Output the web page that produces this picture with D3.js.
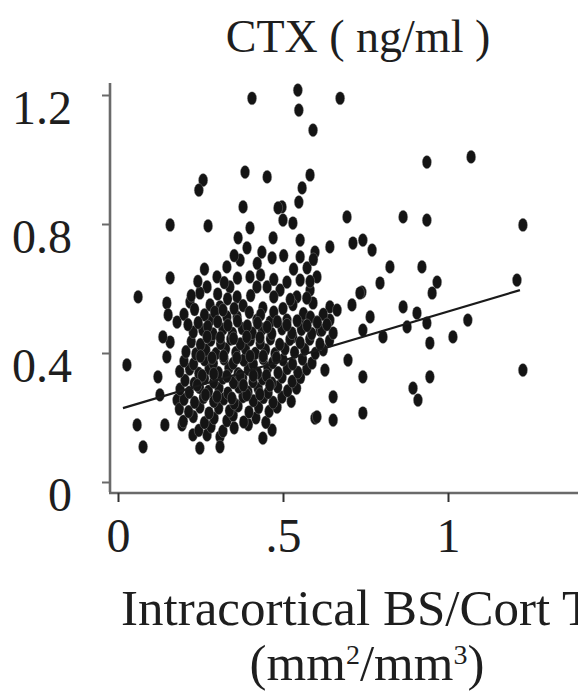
<!DOCTYPE html>
<html>
<head>
<meta charset="utf-8">
<script src="https://cdn.jsdelivr.net/npm/d3@7"></script>
<style>
  html, body { margin: 0; padding: 0; background: #fff; }
  svg { display: block; }
  text { font-family: "Liberation Serif", "Times New Roman", serif; fill: #1e1e1e; }
</style>
</head>
<body>
<div id="chart"></div>
<script>
// ---------------- DATA ----------------
const chartTitle = "CTX ( ng/ml )";
const xTitle = "Intracortical BS/Cort TV";
const yTicks = [0, 0.4, 0.8, 1.2];
const yTickLabels = ["0", "0.4", "0.8", "1.2"];
const xTicks = [0, 0.5, 1];
const xTickLabels = ["0", ".5", "1"];

// sparse / outer points [BS/Cort TV, CTX]
const outerPoints = [
  [.406,1.19],[.545,1.215],[.548,1.153],[.591,1.091],[.673,1.19],[.936,.992],[1.07,1.008],
  [1.227,.797],[.864,.822],[.694,.822],[.936,.812],[.582,.952],[.558,.912],[.548,.868],
  [.497,.853],[.530,.803],[.642,.729],[.712,.741],[.742,.75],[.770,.719],[.597,.713],
  [.552,.75],[.824,.667],[.921,.667],[.967,.62],[.794,.617],[.739,.589],[1.209,.626],
  [.258,.936],[.245,.905],[.385,.961],[.452,.946],[.158,.797],[.273,.794],[.379,.853],
  [.485,.85],[.5,.812],[.4,.788],[.364,.757],[.470,.757],[.391,.726],[.436,.713],
  [.467,.695],[.552,.698],[.370,.688],[.330,.667],[.3,.636],[.158,.633],[.061,.574],
  [.4,.636],[.573,.664],[.552,.626],[.603,.636],[.27,.605],[.218,.558],[.148,.555],
  [.152,.518],[.179,.496],[.339,.605],[.361,.574],[.421,.605],[.452,.605],[.491,.595],
  [.542,.574],[.582,.595],[.591,.555],[.642,.543],[.248,.586],[.279,.549],[.309,.543],
  [.379,.547],[.439,.54],[.5,.538],[.53,.55],[.279,.502],[.330,.512],[.361,.512],
  [.421,.502],[.461,.496],[.512,.502],[.552,.493],[.603,.496],[.642,.502],[.512,.62],
  [.530,.45],[.612,.471],[.664,.533],[.709,.549],[.733,.586],[.764,.512],[.742,.471],
  [.803,.45],[.864,.543],[.876,.481],[.936,.493],[.945,.431],[.952,.586],[.906,.524],
  [1.015,.45],[1.06,.502],[.627,.347],[.697,.378],[.742,.326],[.652,.264],[.597,.198],
  [.652,.192],[.742,.214],[.894,.291],[.909,.254],[.945,.326],[1.227,.347],[.027,.363],
  [.158,.434],[.148,.388],[.121,.326],[.058,.177],[.076,.109],[.142,.177],[.194,.177],
  [.227,.146],[.248,.105],[.27,.146],[.309,.14],[.309,.109],[.439,.136],[.467,.161],
  [.603,.202],[.179,.254],[.127,.27],[.136,.45]
];

// moderately dense band above the cluster [BS/Cort TV, CTX]
const bandPoints = [
  [.2,.52],[.232,.535],[.262,.518],[.293,.527],[.318,.533],[.352,.538],[.398,.526],[.432,.518],
  [.472,.527],[.562,.522],[.583,.511],[.622,.52],
  [.222,.578],[.302,.583],[.332,.568],[.402,.578],[.472,.574],[.522,.566],[.572,.57],
  [.242,.622],[.322,.618],[.362,.632],[.432,.642],[.472,.628],[.532,.66],[.582,.622],
  [.262,.66],[.352,.702],[.422,.678],[.502,.702],[.592,.69]
];

// dense central cluster [BS/Cort TV, CTX]
const clusterPoints = [
  [.245,.16],[.282,.172],[.318,.158],[.352,.168],[.395,.178],
  [.198,.188],[.228,.203],[.262,.184],[.291,.198],[.33,.19],[.349,.207],[.381,.186],[.418,.199],[.448,.185],
  [.186,.226],[.214,.218],[.248,.232],[.276,.214],[.305,.229],[.338,.221],[.364,.236],[.397,.217],[.426,.231],[.458,.219],[.482,.232],
  [.2,.256],[.232,.247],[.259,.262],[.29,.25],[.321,.258],[.352,.244],[.379,.265],[.41,.252],[.441,.262],[.47,.247],[.497,.263],[.525,.25],
  [.188,.288],[.216,.278],[.247,.293],[.274,.281],[.306,.291],[.333,.276],[.366,.294],[.394,.279],[.425,.29],[.455,.277],[.484,.295],[.514,.283],[.541,.291],
  [.203,.315],[.231,.306],[.262,.321],[.29,.31],[.318,.322],[.35,.308],[.378,.323],[.409,.311],[.438,.32],[.466,.307],[.497,.325],[.528,.312],[.553,.324],
  [.187,.343],[.217,.35],[.245,.337],[.276,.352],[.304,.339],[.336,.353],[.364,.336],[.395,.349],[.423,.338],[.454,.354],[.485,.339],[.513,.352],[.545,.34],[.572,.35],
  [.2,.375],[.229,.366],[.262,.379],[.289,.368],[.321,.382],[.349,.368],[.381,.378],[.41,.365],[.44,.383],[.469,.37],[.5,.379],[.529,.366],[.559,.381],[.588,.369],
  [.206,.404],[.236,.397],[.266,.41],[.297,.398],[.326,.413],[.357,.401],[.386,.414],[.416,.399],[.447,.41],[.476,.398],[.506,.413],[.535,.402],[.566,.411],[.598,.399],[.622,.41],
  [.222,.435],[.25,.426],[.281,.44],[.311,.429],[.342,.443],[.371,.428],[.401,.441],[.431,.43],[.462,.444],[.49,.427],[.521,.442],[.552,.432],[.581,.443],[.612,.428],[.641,.438],
  [.228,.465],[.257,.472],[.288,.459],[.318,.474],[.347,.461],[.377,.476],[.407,.462],[.437,.474],[.466,.46],[.497,.475],[.527,.462],[.556,.473],[.587,.46],[.618,.471],[.652,.462],
  [.212,.488],[.243,.494],[.272,.482],[.302,.497],[.333,.486],[.362,.499],[.392,.484],[.423,.493],[.452,.481],[.483,.497],[.512,.487],[.543,.5],[.573,.485],[.604,.495],[.633,.488],
  // extra points filling the core
  [.265,.27],[.3,.265],[.345,.26],[.39,.27],[.43,.272],
  [.255,.33],[.29,.335],[.33,.328],[.37,.33],[.41,.33],[.45,.33],
  [.25,.39],[.285,.385],[.32,.39],[.36,.385],[.40,.39],[.44,.39],[.48,.385],
  [.27,.45],[.31,.448],[.35,.445],[.39,.45],[.43,.448],
  [.24,.3],[.38,.3],[.46,.3]
];

// fitted regression line endpoints [x, y]
const fitLine = [[0.015, 0.229], [1.218, 0.595]];

// ---------------- LAYOUT ----------------
const W = 578, H = 692;
const svg = d3.select("#chart").append("svg").attr("width", W).attr("height", H);

const x = d3.scaleLinear().domain([0, 1]).range([118, 448]);
const y = d3.scaleLinear().domain([0, 1.2]).range([482, 95]);

const axisColor = "#6a6a6a";

// title
svg.append("text").attr("x", 358).attr("y", 52).attr("text-anchor", "middle")
  .style("font-size", "46px").text(chartTitle);

// axis lines
svg.append("line").attr("x1", 110).attr("x2", 110).attr("y1", 83).attr("y2", 492)
  .attr("stroke", axisColor).attr("stroke-width", 2.6);
svg.append("line").attr("x1", 109).attr("x2", W).attr("y1", 493).attr("y2", 493)
  .attr("stroke", axisColor).attr("stroke-width", 2.6);

// y axis
const gy = svg.append("g").attr("transform", "translate(110,0)")
  .call(d3.axisLeft(y).tickValues(yTicks)
    .tickFormat((d, i) => yTickLabels[i]).tickSize(8).tickSizeOuter(0).tickPadding(30));
gy.select(".domain").remove();
gy.selectAll(".tick line").attr("stroke", axisColor).attr("stroke-width", 2);
gy.selectAll(".tick text").attr("dy", "0.6em").style("font-size", "48px")
  .style("font-family", "'Liberation Serif', serif").attr("fill", "#1e1e1e");

// x axis
const gx = svg.append("g").attr("transform", "translate(0,493)")
  .call(d3.axisBottom(x).tickValues(xTicks)
    .tickFormat((d, i) => xTickLabels[i]).tickSize(9).tickSizeOuter(0).tickPadding(16));
gx.select(".domain").remove();
gx.selectAll(".tick line").attr("stroke", "#333").attr("stroke-width", 2);
gx.selectAll(".tick text").style("font-size", "48px")
  .style("font-family", "'Liberation Serif', serif").attr("fill", "#1e1e1e");

// points
const allPoints = outerPoints.concat(bandPoints, clusterPoints);
svg.append("g").selectAll("ellipse").data(allPoints).join("ellipse")
  .attr("cx", d => x(d[0])).attr("cy", d => y(d[1]))
  .attr("rx", 4.6).attr("ry", 6.6)
  .attr("fill", "#141414")
  .attr("stroke", "#a0a0a0").attr("stroke-width", 0.6).attr("stroke-opacity", 0.6);

// regression line
svg.append("path").datum(fitLine)
  .attr("d", d3.line().x(d => x(d[0])).y(d => y(d[1])))
  .attr("stroke", "#1a1a1a").attr("stroke-width", 2.2).attr("fill", "none");

// x title
svg.append("text").attr("x", 121).attr("y", 625).attr("text-anchor", "start")
  .style("font-size", "51px").text(xTitle);
const unit = svg.append("text").attr("x", 367).attr("y", 680).attr("text-anchor", "middle")
  .style("font-size", "51px");
unit.append("tspan").text("(mm");
unit.append("tspan").attr("dy", -16).style("font-size", "28px").text("2");
unit.append("tspan").attr("dy", 16).text("/mm");
unit.append("tspan").attr("dy", -16).style("font-size", "28px").text("3");
unit.append("tspan").attr("dy", 16).text(")");
</script>
</body>
</html>
